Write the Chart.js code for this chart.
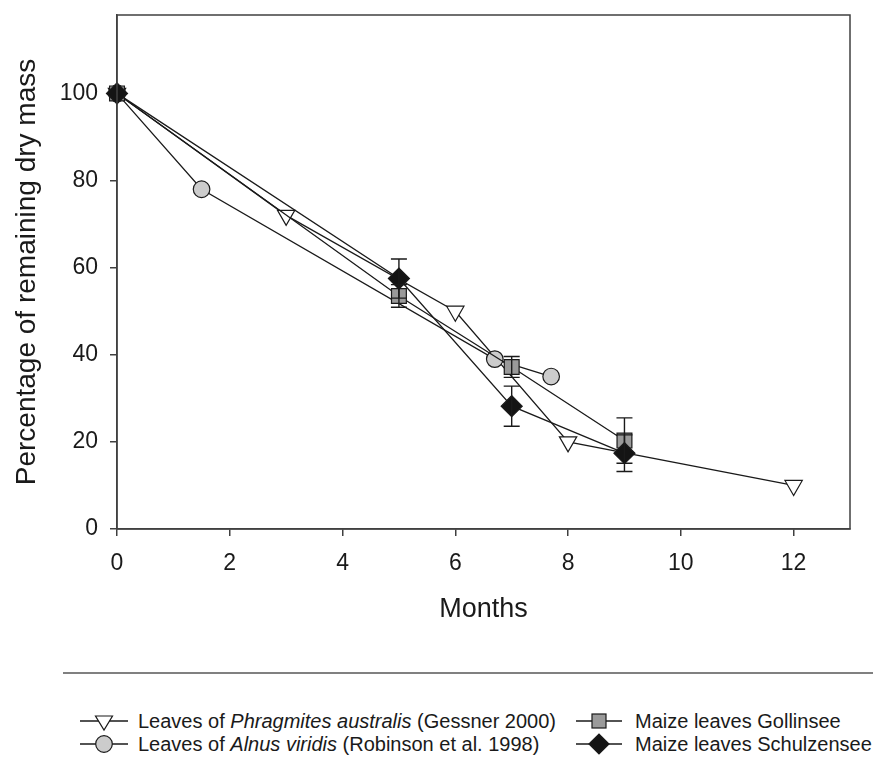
<!DOCTYPE html>
<html>
<head>
<meta charset="utf-8">
<script src="https://cdn.jsdelivr.net/npm/chart.js@4/dist/chart.umd.min.js"></script>
<style>
  body { margin: 0; background: #fff; font-family: "Liberation Sans", Arial, sans-serif; color: #1a1a1a; }
  #wrap { position: relative; width: 875px; height: 758px; }
  #chart-box { position: absolute; left: 0; top: 0; width: 875px; height: 640px; }
  #sep { position: absolute; left: 63px; top: 672px; width: 810px; height: 2px; background: #808080; }
  .leg { position: absolute; font-size: 20px; line-height: 22px; white-space: nowrap; }
  .leg svg { position: absolute; top: 0; }
  .leg span { position: absolute; top: 0; }
</style>
</head>
<body>
<div id="wrap">
  <div id="chart-box"><canvas id="chart" width="875" height="640"></canvas></div>
  <div id="sep"></div>
  <div id="legend"></div>
</div>
<script>
// months since exposure
const phragX = [0, 3, 6, 8, 12];
const phragY = [100, 72, 50, 20, 10];

const alnusX = [0, 1.5, 6.7, 7.7];
const alnusY = [100, 78, 39, 35];

const gollX = [0, 5, 7, 9];
const gollY = [100, 53.5, 37.2, 20.3];
const gollErr = [0, 2.6, 2.4, 5.2];

const schulzX = [0, 5, 7, 9];
const schulzY = [100, 57.5, 28.2, 17.4];
const schulzErr = [0, 4.5, 4.6, 4.2];

const xTicks = [0, 2, 4, 6, 8, 10, 12];
const yTicks = [0, 20, 40, 60, 80, 100];

const INK = "#1a1a1a";
const AXIS = "#404040";

function toPoints(xs, ys) {
  return xs.map((x, i) => ({ x: x, y: ys[i] }));
}

const errorBars = {
  id: "errorBars",
  afterDatasetsDraw(chart) {
    const { ctx, scales } = chart;
    const sets = [
      [gollX, gollY, gollErr],
      [schulzX, schulzY, schulzErr],
    ];
    ctx.save();
    ctx.strokeStyle = INK;
    ctx.lineWidth = 1.4;
    sets.forEach(([xs, ys, es]) => {
      xs.forEach((x, i) => {
        if (!es[i]) return;
        const px = scales.x.getPixelForValue(x);
        const top = scales.y.getPixelForValue(ys[i] + es[i]);
        const bot = scales.y.getPixelForValue(ys[i] - es[i]);
        ctx.beginPath();
        ctx.moveTo(px, top);
        ctx.lineTo(px, bot);
        ctx.moveTo(px - 8, top);
        ctx.lineTo(px + 8, top);
        ctx.moveTo(px - 8, bot);
        ctx.lineTo(px + 8, bot);
        ctx.stroke();
      });
    });
    ctx.restore();
  },
};

const frame = {
  id: "frame",
  afterDraw(chart) {
    const { ctx, chartArea: a } = chart;
    ctx.save();
    ctx.strokeStyle = AXIS;
    ctx.lineWidth = 1.5;
    ctx.strokeRect(a.left, a.top, a.right - a.left, a.bottom - a.top);
    ctx.restore();
  },
};

const base = {
  borderColor: INK,
  borderWidth: 1.3,
  pointBorderColor: INK,
  pointBorderWidth: 1.2,
  clip: false,
  tension: 0,
};

const ctx = document.getElementById("chart").getContext("2d");
new Chart(ctx, {
  type: "scatter",
  data: {
    datasets: [
      {
        ...base,
        label: "Leaves of Phragmites australis (Gessner 2000)",
        data: toPoints(phragX, phragY),
        showLine: true,
        pointStyle: "triangle",
        rotation: 180,
        pointRadius: 10,
        pointBackgroundColor: "#ffffff",
        order: 3,
      },
      {
        ...base,
        label: "Leaves of Alnus viridis (Robinson et al. 1998)",
        data: toPoints(alnusX, alnusY),
        showLine: true,
        pointStyle: "circle",
        pointRadius: 8.3,
        pointBackgroundColor: "#cccccc",
        order: 2,
      },
      {
        ...base,
        label: "Maize leaves Gollinsee",
        data: toPoints(gollX, gollY),
        showLine: true,
        pointStyle: "rect",
        pointRadius: 10.5,
        pointBackgroundColor: "#9a9a9a",
        order: 1,
      },
      {
        ...base,
        label: "Maize leaves Schulzensee",
        data: toPoints(schulzX, schulzY),
        showLine: true,
        pointStyle: "rectRot",
        pointRadius: 10.5,
        pointBackgroundColor: "#141414",
        order: 0,
      },
    ],
  },
  options: {
    responsive: false,
    animation: false,
    layout: { padding: { top: 15, right: 25, left: 0, bottom: 0 } },
    plugins: { legend: { display: false }, tooltip: { enabled: false } },
    scales: {
      x: {
        type: "linear",
        min: 0,
        max: 13,
        afterFit: (s) => { s.height = 111; s.paddingLeft = 0; s.paddingRight = 0; },
        afterBuildTicks: (s) => { s.ticks = xTicks.map((v) => ({ value: v })); },
        grid: { drawOnChartArea: false, drawTicks: true, tickLength: 7, color: AXIS, lineWidth: 1.5 },
        border: { display: true, color: AXIS, width: 1.5 },
        ticks: { color: INK, font: { family: "Liberation Sans", size: 23 }, padding: 14, maxRotation: 0 },
        title: {
          display: true,
          text: "Months",
          color: INK,
          font: { family: "Liberation Sans", size: 27 },
          padding: { top: 0, bottom: 14 },
        },
      },
      y: {
        type: "linear",
        min: 0,
        max: 118,
        afterFit: (s) => { s.width = 117; s.paddingTop = 0; s.paddingBottom = 0; },
        afterBuildTicks: (s) => { s.ticks = yTicks.map((v) => ({ value: v })); },
        grid: { drawOnChartArea: false, drawTicks: true, tickLength: 7, color: AXIS, lineWidth: 1.5 },
        border: { display: true, color: AXIS, width: 1.5 },
        ticks: { color: INK, font: { family: "Liberation Sans", size: 23 }, padding: 12 },
        title: {
          display: true,
          text: "Percentage of remaining dry mass",
          color: INK,
          font: { family: "Liberation Sans", size: 28 },
          padding: { top: 10, bottom: 0 },
        },
      },
    },
  },
  plugins: [errorBars, frame],
});

// legend (mixed italic text, so built as html)
const legendItems = [
  { left: 78, top: 710, shape: "tri", html: "Leaves of <i>Phragmites australis</i> (Gessner 2000)" },
  { left: 78, top: 733, shape: "circ", html: "Leaves of <i>Alnus viridis</i> (Robinson et al. 1998)" },
  { left: 574, top: 710, shape: "sq", html: "Maize leaves Gollinsee" },
  { left: 574, top: 733, shape: "dia", html: "Maize leaves Schulzensee" },
];

function symbol(shape, w) {
  const c = w / 2;
  let m = "";
  if (shape === "tri") m = `<polygon points="${c - 8.5},6 ${c + 8.5},6 ${c},20" fill="#fff" stroke="${INK}" stroke-width="1.2"/>`;
  if (shape === "circ") m = `<circle cx="${c}" cy="11" r="8.3" fill="#ccc" stroke="${INK}" stroke-width="1.2"/>`;
  if (shape === "sq") m = `<rect x="${c - 7}" y="4" width="14" height="14" fill="#9a9a9a" stroke="${INK}" stroke-width="1.2"/>`;
  if (shape === "dia") m = `<polygon points="${c - 10},11 ${c},1 ${c + 10},11 ${c},21" fill="#141414" stroke="${INK}" stroke-width="1.2"/>`;
  return `<svg width="${w}" height="22"><line x1="2" y1="11" x2="${w - 2}" y2="11" stroke="${INK}" stroke-width="1.3"/>${m}</svg>`;
}

const legendEl = document.getElementById("legend");
legendItems.forEach((it) => {
  const d = document.createElement("div");
  d.className = "leg";
  d.style.left = it.left + "px";
  d.style.top = it.top + "px";
  const w = it.left < 300 ? 52 : 50;
  const gap = it.left < 300 ? 60 : 61;
  d.innerHTML = symbol(it.shape, w) + `<span style="left:${gap}px">${it.html}</span>`;
  legendEl.appendChild(d);
});
</script>
</body>
</html>
